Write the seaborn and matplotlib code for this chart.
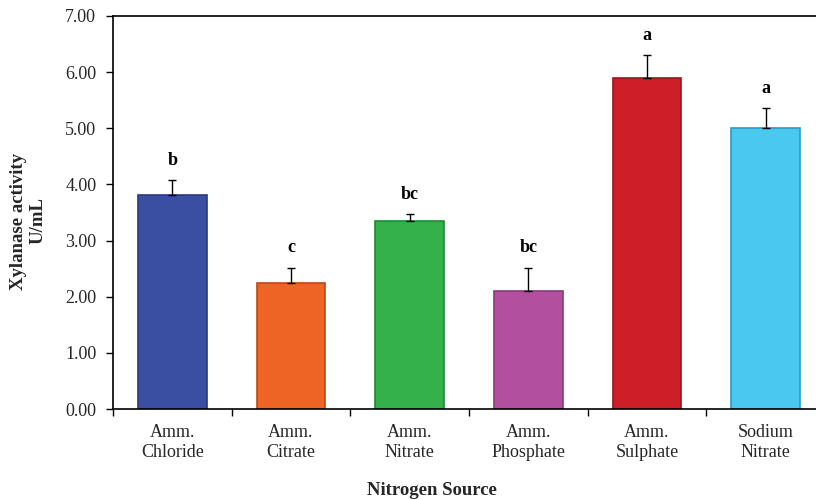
import matplotlib
matplotlib.use("Agg")
import matplotlib.pyplot as plt
import seaborn as sns
import pandas as pd
import numpy as np

categories = ["Amm.\nChloride", "Amm.\nCitrate", "Amm.\nNitrate", "Amm.\nPhosphate", "Amm.\nSulphate", "Sodium\nNitrate"]
values = [3.81, 2.24, 3.34, 2.10, 5.90, 5.01]
errors = [0.27, 0.28, 0.13, 0.42, 0.41, 0.35]
letters = ["b", "c", "bc", "bc", "a", "a"]
colors = ["#3A4FA1", "#EE6425", "#34B14B", "#B24F9F", "#CE1F29", "#4BC8EE"]
edge_colors = ["#2A3A80", "#B84A18", "#1E8A35", "#8A3A7C", "#9A161E", "#2A9CC4"]
yticks = [0, 1, 2, 3, 4, 5, 6, 7]

sns.set_theme(style="white")
plt.rcParams["font.family"] = ["Liberation Serif", "DejaVu Serif"]

df = pd.DataFrame({"source": categories, "activity": values})

fig = plt.figure(figsize=(8.16, 5.0), dpi=100)
ax = fig.add_axes([113/816, 1 - 409/500, 712/816, 393/500])

sns.barplot(data=df, x="source", y="activity", hue="source", palette=colors,
            width=0.58, legend=False, ax=ax, saturation=1)
for patch, ec in zip(ax.patches, edge_colors):
    patch.set_edgecolor(ec)
    patch.set_linewidth(1.2)

x = np.arange(len(categories))
ax.errorbar(x, values, yerr=[np.zeros(len(values)), errors], fmt="none",
            ecolor="black", elinewidth=1, capsize=3, capthick=1, zorder=3)
for xi, v, e, t in zip(x, values, errors, letters):
    ax.text(xi, v + e + 0.2, t, ha="center", va="bottom", fontsize=13, fontweight="bold", color="black")

ax.set_xlim(-0.5, len(categories) - 0.5)
ax.set_ylim(0, 7)
ax.set_yticks(yticks)
ax.set_yticklabels([f"{t:.2f}" for t in yticks], fontsize=13)
ax.set_xticks(x)
ax.set_xticklabels(categories, fontsize=13)
ax.set_xticks(np.arange(-0.5, len(categories), 1.0), minor=True)
ax.tick_params(axis="x", which="major", length=0, pad=11)
ax.tick_params(axis="x", which="minor", length=5, width=1, direction="out", bottom=True, color="black")
ax.tick_params(axis="y", length=5, width=1, direction="out", left=True, color="black", pad=7)

for s in ["left", "bottom", "top"]:
    ax.spines[s].set_visible(True)
    ax.spines[s].set_color("black")
    ax.spines[s].set_linewidth(1.2)
ax.spines["right"].set_visible(False)

ax.set_xlabel("Nitrogen Source", fontsize=13.5, fontweight="bold")
ax.set_ylabel("Xylanase activity\nU/mL", fontsize=13.5, fontweight="bold")
ax.xaxis.set_label_coords((432 - 113) / 712, -(482 - 409) / 393)
ax.yaxis.set_label_coords(-(113 - 47) / 712, (409 - 221) / 393)

fig.savefig("out.png", dpi=100)
